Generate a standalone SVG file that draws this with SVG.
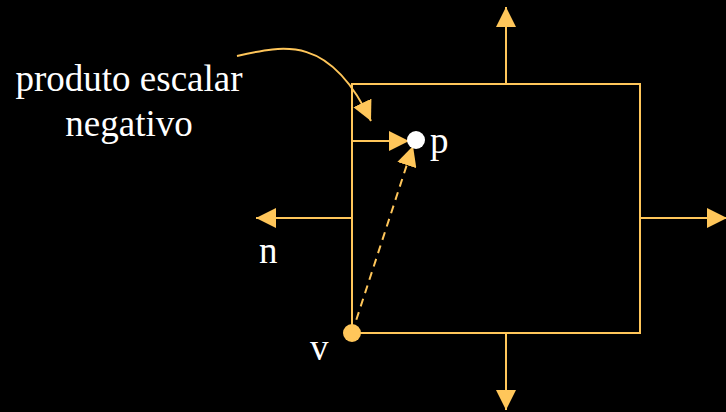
<svg xmlns="http://www.w3.org/2000/svg" width="726" height="412" viewBox="0 0 726 412">
<defs>
<style>
.ln{stroke:#FFC65A;stroke-width:2;fill:none}
.t{font-family:"Liberation Serif",serif;font-size:37px;fill:#FFFFFF}
</style>
<marker id="ah" viewBox="0 0 20 20" refX="20" refY="10" markerWidth="20" markerHeight="20" markerUnits="userSpaceOnUse" orient="auto">
<path d="M0,0 L20,10 L0,20 Z" fill="#FFC65A"/>
</marker>
</defs>
<rect width="726" height="412" fill="#000000"/>
<g id="box">
<rect class="ln" x="352" y="84" width="288" height="249"/>
</g>
<g id="connectors">
<line class="ln" x1="506" y1="84" x2="506" y2="7" marker-end="url(#ah)"/>
<line class="ln" x1="506" y1="333" x2="506" y2="410" marker-end="url(#ah)"/>
<line class="ln" x1="640" y1="218" x2="727" y2="218" marker-end="url(#ah)"/>
<line class="ln" x1="352" y1="218" x2="256" y2="218" marker-end="url(#ah)"/>
<line class="ln" x1="352" y1="141" x2="409" y2="141" marker-end="url(#ah)"/>
<line class="ln" x1="352" y1="333" x2="413" y2="146" stroke-dasharray="8,6" marker-end="url(#ah)"/>
<path class="ln" d="M237,56 C285,45 330,35 371,121" marker-end="url(#ah)"/>
</g>
<g id="p">
<circle cx="416" cy="140" r="9" fill="#FFFFFF"/>
<text class="t" x="430" y="153">p</text>
</g>
<g id="v">
<circle cx="352" cy="333" r="9" fill="#FFC65A"/>
<text class="t" x="310" y="360">v</text>
</g>
<g id="n">
<text class="t" x="259" y="263">n</text>
</g>
<g id="label">
<text class="t" x="129" y="91" text-anchor="middle">produto escalar</text>
<text class="t" x="129" y="136" text-anchor="middle">negativo</text>
</g>
</svg>
